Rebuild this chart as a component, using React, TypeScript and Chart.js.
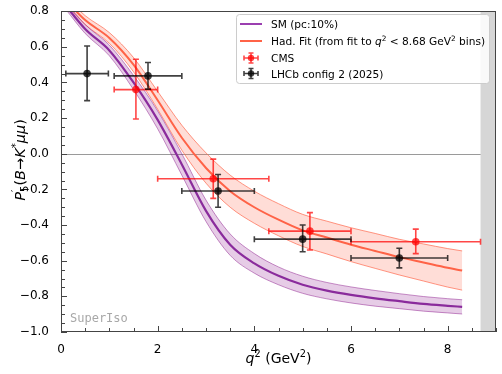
import React, { useEffect, useRef } from "react";
import { Chart, registerables } from "chart.js";
Chart.register(...registerables);

// ---- data ----
const curveX = [0.1, 0.5, 1.0, 1.5, 2.0, 2.5, 3.0, 3.5, 4.0, 4.5, 5.0, 5.5, 6.0, 6.5, 7.0, 7.5, 8.0, 8.3];
const smCentral = [0.83, 0.7, 0.58, 0.4, 0.19, -0.06, -0.32, -0.51, -0.615, -0.685, -0.735, -0.768, -0.792, -0.811, -0.827, -0.842, -0.853, -0.859];
const smUpper = [0.85, 0.725, 0.61, 0.44, 0.24, 0.0, -0.26, -0.45, -0.56, -0.635, -0.687, -0.722, -0.747, -0.767, -0.785, -0.801, -0.813, -0.819];
const smLower = [0.81, 0.675, 0.55, 0.36, 0.14, -0.12, -0.38, -0.57, -0.67, -0.735, -0.783, -0.814, -0.837, -0.855, -0.869, -0.883, -0.893, -0.899];
const fitCentral = [0.86, 0.75, 0.65, 0.5, 0.3, 0.09, -0.08, -0.21, -0.3, -0.37, -0.43, -0.47, -0.51, -0.545, -0.58, -0.61, -0.64, -0.655];
const fitUpper = [0.88, 0.775, 0.68, 0.54, 0.35, 0.16, 0.005, -0.12, -0.21, -0.28, -0.34, -0.378, -0.415, -0.447, -0.48, -0.506, -0.532, -0.545];
const fitLower = [0.84, 0.725, 0.62, 0.46, 0.25, 0.02, -0.165, -0.3, -0.39, -0.46, -0.52, -0.562, -0.605, -0.643, -0.68, -0.714, -0.748, -0.765];

const cmsX = [1.55, 3.15, 5.15, 7.34];
const cmsXLow = [1.1, 2.0, 4.3, 6.0];
const cmsXHigh = [2.0, 4.3, 6.0, 8.68];
const cmsY = [0.36, -0.14, -0.434, -0.494];
const cmsYLow = [0.195, -0.25, -0.54, -0.56];
const cmsYHigh = [0.53, -0.03, -0.33, -0.423];

const lhcbX = [0.54, 1.8, 3.25, 5.0, 7.0];
const lhcbXLow = [0.1, 1.1, 2.5, 4.0, 6.0];
const lhcbXHigh = [0.98, 2.5, 4.0, 6.0, 8.0];
const lhcbY = [0.45, 0.437, -0.209, -0.479, -0.585];
const lhcbYLow = [0.298, 0.363, -0.3, -0.55, -0.64];
const lhcbYHigh = [0.605, 0.512, -0.116, -0.4, -0.53];

const xMin = 0, xMax = 9, yMin = -1.0, yMax = 0.8;
const xTickValues = [0, 2, 4, 6, 8];
const xMajorStep = 2, xMinorStep = 0.5;
const yMajorStep = 0.2, yMinorStep = 0.05;
const vetoLow = 8.68, vetoHigh = 9;

const legendLabels = ["SM (pc:10%)", "Had. Fit", "CMS", "LHCb config 2 (2025)"];
const watermark = "SuperIso";

// ---- styles ----
const FONT = "DejaVu Sans";
const SM_COLOR = "#8a2b9c";
const FIT_COLOR = "#ff6347";
const CMS_COLOR = "rgba(255,0,0,0.72)";
const LHCB_COLOR = "rgba(0,0,0,0.75)";

type Piece = { t: string; it?: boolean; pos?: "sup" | "sub"; noAdv?: boolean };

function richWidth(ctx: CanvasRenderingContext2D, pieces: Piece[], size: number) {
  let w = 0;
  for (const p of pieces) {
    ctx.font = `${p.it ? "italic " : ""}${p.pos ? size * 0.7 : size}px "${FONT}"`;
    if (!p.noAdv) w += ctx.measureText(p.t).width;
  }
  return w;
}
function drawRich(ctx: CanvasRenderingContext2D, pieces: Piece[], x: number, y: number, size: number, align: "left" | "center") {
  const total = richWidth(ctx, pieces, size);
  let cx = align === "center" ? x - total / 2 : x;
  ctx.textAlign = "left";
  ctx.textBaseline = "alphabetic";
  for (const p of pieces) {
    ctx.font = `${p.it ? "italic " : ""}${p.pos ? size * 0.7 : size}px "${FONT}"`;
    const dy = p.pos === "sup" ? -size * 0.4 : p.pos === "sub" ? size * 0.22 : 0;
    ctx.fillText(p.t, cx, y + dy);
    if (!p.noAdv) cx += ctx.measureText(p.t).width;
  }
}

const pts = (xs: number[], ys: number[]) => xs.map((x, i) => ({ x, y: ys[i] }));

function drawErrorBars(ctx: CanvasRenderingContext2D, chart: any, xs: number[], xl: number[], xh: number[], ys: number[], yl: number[], yh: number[], color: string) {
  const sx = chart.scales.x, sy = chart.scales.y;
  ctx.save();
  ctx.strokeStyle = color;
  ctx.lineWidth = 1.6;
  const cap = 3;
  for (let i = 0; i < xs.length; i++) {
    const px = sx.getPixelForValue(xs[i]);
    const py = sy.getPixelForValue(ys[i]);
    const x1 = sx.getPixelForValue(xl[i]);
    const x2 = sx.getPixelForValue(xh[i]);
    const y1 = sy.getPixelForValue(yl[i]);
    const y2 = sy.getPixelForValue(yh[i]);
    ctx.beginPath();
    ctx.moveTo(x1, py); ctx.lineTo(x2, py);
    ctx.moveTo(px, y1); ctx.lineTo(px, y2);
    ctx.moveTo(x1, py - cap); ctx.lineTo(x1, py + cap);
    ctx.moveTo(x2, py - cap); ctx.lineTo(x2, py + cap);
    ctx.moveTo(px - cap, y1); ctx.lineTo(px + cap, y1);
    ctx.moveTo(px - cap, y2); ctx.lineTo(px + cap, y2);
    ctx.stroke();
  }
  ctx.restore();
}

function legendErrIcon(ctx: CanvasRenderingContext2D, x: number, y: number, color: string) {
  ctx.save();
  ctx.strokeStyle = color;
  ctx.fillStyle = color;
  ctx.lineWidth = 1.6;
  const hw = 7, hh = 5, cap = 2.5;
  ctx.beginPath();
  ctx.moveTo(x - hw, y); ctx.lineTo(x + hw, y);
  ctx.moveTo(x, y - hh); ctx.lineTo(x, y + hh);
  ctx.moveTo(x - hw, y - cap); ctx.lineTo(x - hw, y + cap);
  ctx.moveTo(x + hw, y - cap); ctx.lineTo(x + hw, y + cap);
  ctx.moveTo(x - cap, y - hh); ctx.lineTo(x + cap, y - hh);
  ctx.moveTo(x - cap, y + hh); ctx.lineTo(x + cap, y + hh);
  ctx.stroke();
  ctx.beginPath();
  ctx.arc(x, y, 3.2, 0, Math.PI * 2);
  ctx.fill();
  ctx.restore();
}

const decorPlugin = {
  id: "decor",
  beforeDatasetsDraw(chart: any) {
    const { ctx, chartArea: a, scales } = chart;
    const sx = scales.x, sy = scales.y;
    ctx.save();
    ctx.strokeStyle = "#9a9a9a";
    ctx.lineWidth = 1;
    const y0 = Math.round(sy.getPixelForValue(0)) + 0.5;
    ctx.beginPath();
    ctx.moveTo(a.left, y0); ctx.lineTo(a.right, y0);
    ctx.stroke();
    const vx1 = sx.getPixelForValue(vetoLow), vx2 = sx.getPixelForValue(vetoHigh);
    ctx.fillStyle = "#d6d6d6";
    ctx.fillRect(vx1, a.top, vx2 - vx1, a.bottom - a.top);
    ctx.restore();
  },
  beforeDatasetDraw(chart: any, args: any) {
    const ctx = chart.ctx;
    if (args.index === 6) drawErrorBars(ctx, chart, cmsX, cmsXLow, cmsXHigh, cmsY, cmsYLow, cmsYHigh, CMS_COLOR);
    if (args.index === 7) drawErrorBars(ctx, chart, lhcbX, lhcbXLow, lhcbXHigh, lhcbY, lhcbYLow, lhcbYHigh, LHCB_COLOR);
  },
  afterDraw(chart: any) {
    const { ctx, chartArea: a, scales } = chart;
    const sx = scales.x, sy = scales.y;
    ctx.save();
    ctx.fillStyle = "#a8a8a8";
    ctx.font = `12px "DejaVu Sans Mono"`;
    ctx.textAlign = "left";
    ctx.textBaseline = "alphabetic";
    ctx.fillText(watermark, a.left + 9, a.bottom - 10);

    ctx.strokeStyle = "#444";
    ctx.lineWidth = 1;
    ctx.strokeRect(Math.round(a.left) + 0.5, Math.round(a.top) + 0.5, Math.round(a.right - a.left) - 1, Math.round(a.bottom - a.top) - 1);
    ctx.beginPath();
    const nx = Math.round((xMax - xMin) / xMinorStep);
    for (let i = 0; i <= nx; i++) {
      const v = xMin + i * xMinorStep;
      const major = Math.abs(v / xMajorStep - Math.round(v / xMajorStep)) < 1e-6;
      const len = major ? 6 : 4;
      const px = Math.round(sx.getPixelForValue(v)) + 0.5;
      ctx.moveTo(px, a.bottom); ctx.lineTo(px, a.bottom - len);
    }
    const ny = Math.round((yMax - yMin) / yMinorStep);
    for (let i = 0; i <= ny; i++) {
      const v = yMin + i * yMinorStep;
      const major = Math.abs(v / yMajorStep - Math.round(v / yMajorStep)) < 1e-6;
      const len = major ? 6 : 4;
      const py = Math.round(sy.getPixelForValue(v)) + 0.5;
      ctx.moveTo(a.left, py); ctx.lineTo(a.left + len, py);
    }
    ctx.stroke();

    ctx.fillStyle = "#000";
    drawRich(ctx, [{ t: "q", it: true }, { t: "2", pos: "sup" }, { t: " (GeV" }, { t: "2", pos: "sup" }, { t: ")" }], (a.left + a.right) / 2, 363, 14, "center");
    ctx.save();
    ctx.translate(25, 160);
    ctx.rotate(-Math.PI / 2);
    drawRich(ctx, [
      { t: "P", it: true }, { t: "′", pos: "sup", noAdv: true }, { t: "5", pos: "sub" },
      { t: "(" }, { t: "B", it: true }, { t: "→" }, { t: "K", it: true }, { t: "*", pos: "sup" },
      { t: "μμ", it: true }, { t: ")" },
    ], 0, 0, 14.5, "center");
    ctx.restore();

    const lx = 236.5, ly = 14.5, lw = 253, lh = 69;
    ctx.fillStyle = "rgba(255,255,255,0.85)";
    ctx.strokeStyle = "#cccccc";
    ctx.lineWidth = 1;
    ctx.beginPath();
    if ((ctx as any).roundRect) (ctx as any).roundRect(lx, ly, lw, lh, 3); else ctx.rect(lx, ly, lw, lh);
    ctx.fill();
    ctx.stroke();
    const rows = [24, 41, 58, 73.5];
    ctx.lineWidth = 2;
    ctx.strokeStyle = "#9b3fb0";
    ctx.beginPath(); ctx.moveTo(240, rows[0]); ctx.lineTo(262, rows[0]); ctx.stroke();
    ctx.strokeStyle = FIT_COLOR;
    ctx.beginPath(); ctx.moveTo(240, rows[1]); ctx.lineTo(262, rows[1]); ctx.stroke();
    legendErrIcon(ctx, 251, rows[2], CMS_COLOR);
    legendErrIcon(ctx, 251, rows[3], LHCB_COLOR);
    ctx.fillStyle = "#000";
    const fs = 10.6;
    drawRich(ctx, [{ t: legendLabels[0] }], 271, rows[0] + 4, fs, "left");
    drawRich(ctx, [{ t: legendLabels[1] + " (from fit to " }, { t: "q", it: true }, { t: "2", pos: "sup" }, { t: " < 8.68 GeV" }, { t: "2", pos: "sup" }, { t: " bins)" }], 271, rows[1] + 4, fs, "left");
    drawRich(ctx, [{ t: legendLabels[2] }], 271, rows[2] + 4, fs, "left");
    drawRich(ctx, [{ t: legendLabels[3] }], 271, rows[3] + 4, fs, "left");
    ctx.restore();
  },
};

const fmt = (v: number) => {
  const r = Math.abs(v) < 1e-9 ? 0 : v;
  return r.toFixed(1).replace("-", "\u2212");
};

export default function App() {
  const ref = useRef<HTMLCanvasElement>(null);
  useEffect(() => {
    if (!ref.current) return;
    Chart.defaults.font.family = FONT;
    Chart.defaults.color = "#000";
    const lineBase = { pointRadius: 0, pointHoverRadius: 0, cubicInterpolationMode: "monotone" as const, parsing: false as const };
    const chart = new Chart(ref.current, {
      type: "line",
      data: {
        datasets: [
          { ...lineBase, label: "fitUpper", data: pts(curveX, fitUpper), borderColor: "rgba(255,99,71,0.85)", borderWidth: 0.8, fill: "+1", backgroundColor: "rgba(255,99,71,0.22)", order: 10 },
          { ...lineBase, label: "fitLower", data: pts(curveX, fitLower), borderColor: "rgba(255,99,71,0.85)", borderWidth: 0.8, fill: false, order: 10 },
          { ...lineBase, label: "fitCentral", data: pts(curveX, fitCentral), borderColor: FIT_COLOR, borderWidth: 2, fill: false, order: 9 },
          { ...lineBase, label: "smUpper", data: pts(curveX, smUpper), borderColor: "rgba(128,0,128,0.55)", borderWidth: 0.8, fill: "+1", backgroundColor: "rgba(128,0,128,0.2)", order: 8 },
          { ...lineBase, label: "smLower", data: pts(curveX, smLower), borderColor: "rgba(128,0,128,0.55)", borderWidth: 0.8, fill: false, order: 8 },
          { ...lineBase, label: "smCentral", data: pts(curveX, smCentral), borderColor: SM_COLOR, borderWidth: 2.2, fill: false, order: 7 },
          { label: "CMS", data: pts(cmsX, cmsY), showLine: false, pointRadius: 3.8, pointBackgroundColor: CMS_COLOR, pointBorderColor: CMS_COLOR, borderColor: CMS_COLOR, backgroundColor: CMS_COLOR, pointBorderWidth: 0, order: 2, parsing: false },
          { label: "LHCb", data: pts(lhcbX, lhcbY), showLine: false, pointRadius: 3.8, pointBackgroundColor: LHCB_COLOR, pointBorderColor: LHCB_COLOR, borderColor: LHCB_COLOR, backgroundColor: LHCB_COLOR, pointBorderWidth: 0, order: 1, parsing: false },
        ] as any,
      },
      options: {
        animation: false,
        responsive: false,
        maintainAspectRatio: false,
        events: [],
        layout: { padding: { left: 0, top: 9, right: 6, bottom: 0 } },
        plugins: { legend: { display: false }, tooltip: { enabled: false }, filler: { propagate: false } as any },
        scales: {
          x: {
            type: "linear", min: xMin, max: xMax,
            grid: { display: false }, border: { display: false },
            ticks: { padding: 3, font: { size: 12, family: FONT }, color: "#000", maxRotation: 0, callback: (v: any) => String(v) },
            afterBuildTicks: (s: any) => { s.ticks = xTickValues.map((v) => ({ value: v })); },
            afterFit: (s: any) => { s.height = 42; },
          },
          y: {
            type: "linear", min: yMin, max: yMax,
            grid: { display: false }, border: { display: false },
            ticks: { stepSize: yMajorStep, padding: 4, font: { size: 12, family: FONT }, color: "#000", callback: (v: any) => fmt(Number(v)) },
            afterFit: (s: any) => { s.width = 61; },
          },
        },
      } as any,
      plugins: [decorPlugin],
    });
    return () => chart.destroy();
  }, []);
  return (
    <div style={{ position: "fixed", left: 0, top: 0, width: 502, height: 374, background: "#fff" }}>
      <canvas ref={ref} width={502} height={374} style={{ width: 502, height: 374, display: "block" }} />
    </div>
  );
}
